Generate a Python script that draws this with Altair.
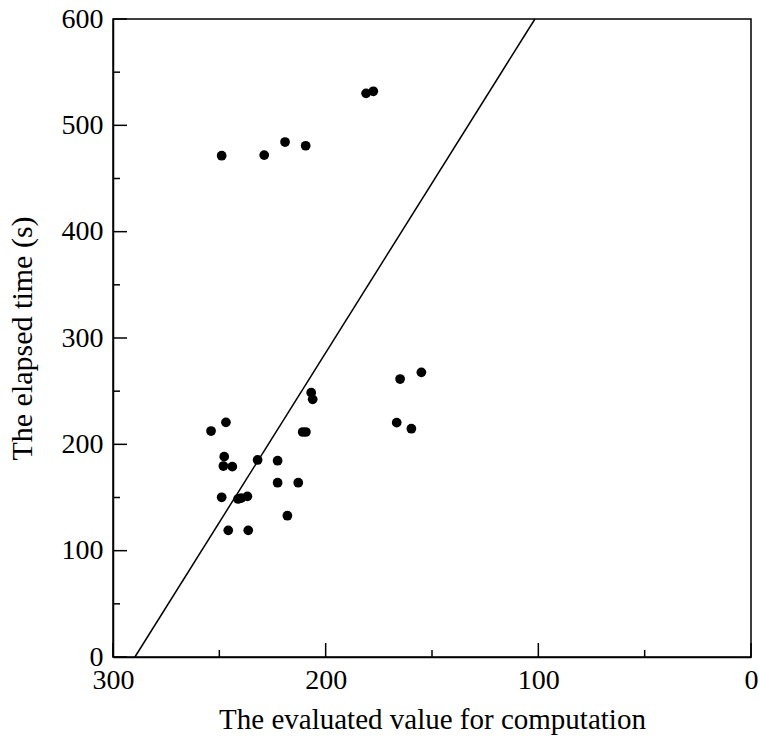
import altair as alt
import pandas as pd

# Evaluated value (x) and elapsed time in seconds (y) for each run
evaluated = [248.9, 228.9, 219.1, 209.4, 181.0, 177.6,
             253.9, 246.9, 247.7, 248.1, 243.9, 232.0, 248.9, 241.2, 239.7,
             236.8, 245.8, 236.4, 222.6, 222.6, 218.0, 212.9, 210.8, 209.3,
             206.8, 206.1, 165.0, 155.0, 166.6, 159.7]
elapsed = [471.4, 472.0, 484.3, 480.8, 530.1, 532.0,
           212.5, 220.7, 188.4, 179.6, 179.0, 185.3, 150.2, 148.6, 149.5,
           151.1, 119.1, 119.1, 184.6, 163.9, 132.9, 163.9, 211.6, 211.6,
           248.6, 242.3, 261.4, 267.7, 220.4, 214.7]

# Fitted reference line endpoints
line_x = [289.7, 101.6]
line_y = [0, 600]

# Axis tick values
x_major = [300, 200, 100, 0]
x_minor = [250, 150, 50]
y_major = [0, 100, 200, 300, 400, 500, 600]
y_minor = [50, 150, 250, 350, 450, 550]

FONT = "'Times New Roman', 'Liberation Serif', Times, serif"
W = H = 638

pts = pd.DataFrame({"x": evaluated, "y": elapsed})
fit = pd.DataFrame({"x": line_x, "y": line_y})

xscale = alt.Scale(domain=[0, 300], reverse=True, nice=False)
yscale = alt.Scale(domain=[0, 600], nice=False)

x_axis = alt.Axis(values=x_major, tickSize=0, labelFlush=False, labelOverlap=False,
                  labelFont=FONT, labelFontSize=28, labelColor="black", labelPadding=9,
                  domainColor="black", domainWidth=1.5, grid=False,
                  title="The evaluated value for computation", titleFont=FONT,
                  titleFontSize=29, titleFontWeight="normal", titleColor="black",
                  titlePadding=11)
y_axis = alt.Axis(values=y_major, tickSize=0, labelFlush=False, labelOverlap=False,
                  labelFont=FONT, labelFontSize=28, labelColor="black", labelPadding=10,
                  domainColor="black", domainWidth=1.5, grid=False,
                  title="The elapsed time (s)", titleFont=FONT,
                  titleFontSize=30, titleFontWeight="normal", titleColor="black",
                  titlePadding=24)

points = alt.Chart(pts).mark_circle(size=95, color="black", opacity=1).encode(
    x=alt.X("x:Q", scale=xscale, axis=x_axis),
    y=alt.Y("y:Q", scale=yscale, axis=y_axis),
)

line = alt.Chart(fit).mark_line(color="black", strokeWidth=1.5).encode(
    x=alt.X("x:Q", scale=xscale),
    y=alt.Y("y:Q", scale=yscale),
)


def xticks(vals, length):
    return alt.Chart(pd.DataFrame({"v": vals})).mark_rule(color="black", strokeWidth=1.5).encode(
        x=alt.X("v:Q", scale=xscale),
        y=alt.value(H), y2=alt.value(H - length),
    )


def yticks(vals, length):
    return alt.Chart(pd.DataFrame({"v": vals})).mark_rule(color="black", strokeWidth=1.5).encode(
        y=alt.Y("v:Q", scale=yscale),
        x=alt.value(0), x2=alt.value(length),
    )


chart = alt.layer(
    points, line,
    xticks(x_major, 14), xticks(x_minor, 7),
    yticks(y_major, 14), yticks(y_minor, 7),
).properties(
    width=W, height=H,
    autosize=alt.AutoSizeParams(type="none"),
    padding={"left": 113, "top": 19, "right": 8, "bottom": 82},
    background="white",
).configure_view(
    stroke="black", strokeWidth=1.5
).configure_axis(
    labelFont=FONT, titleFont=FONT
)

chart.save("out.html", embed_options={"renderer": "svg", "actions": False})
